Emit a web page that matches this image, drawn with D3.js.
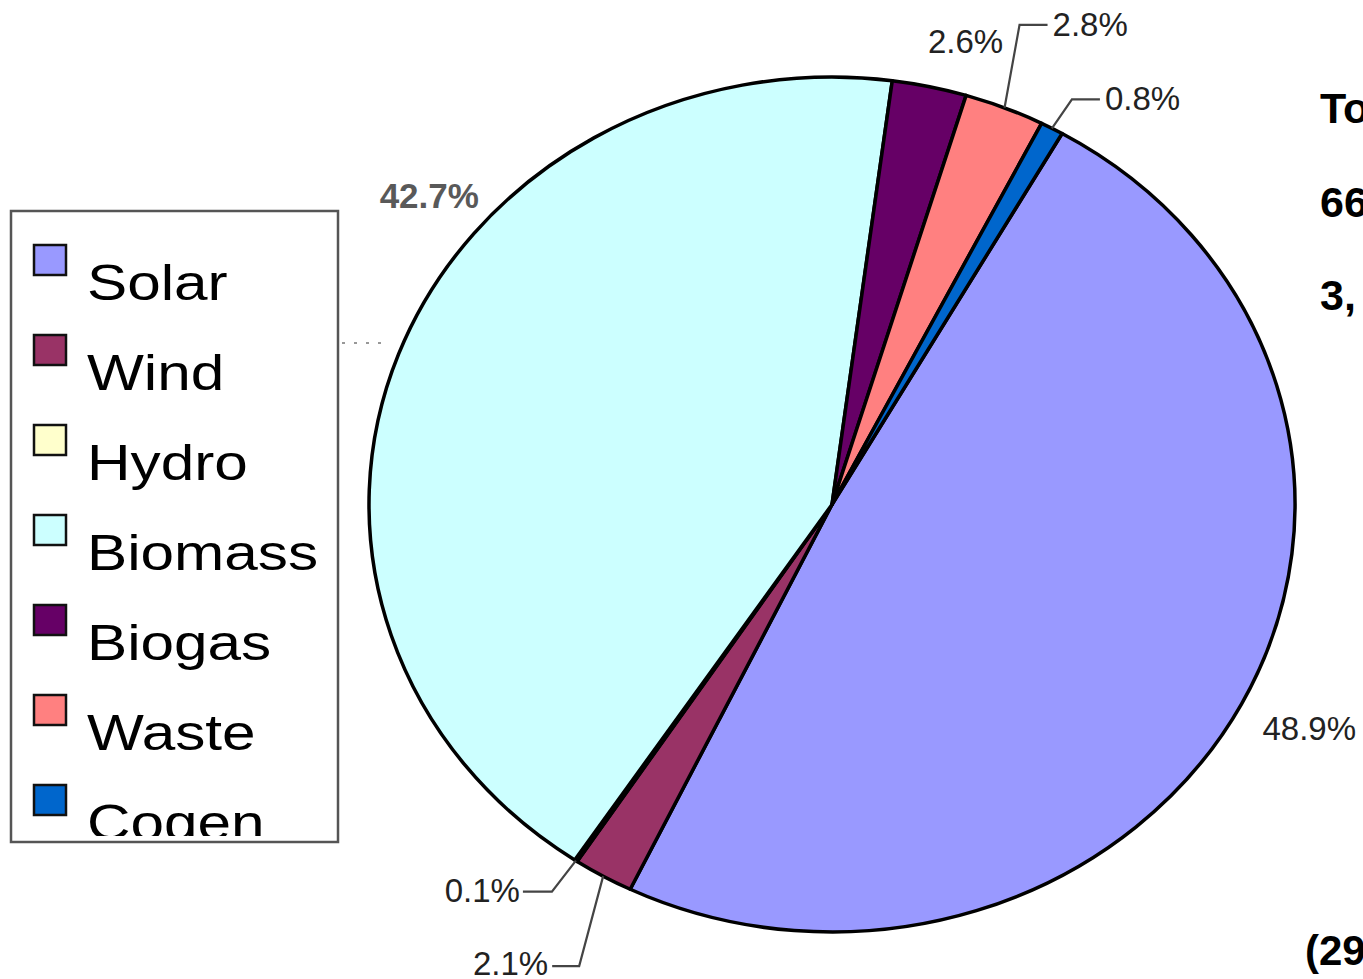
<!DOCTYPE html>
<html>
<head>
<meta charset="utf-8">
<script src="https://cdn.jsdelivr.net/npm/d3@7"></script>
<style>
html,body{margin:0;padding:0;background:#fff;overflow:hidden;}
svg{display:block;font-family:"Liberation Sans",Arial,sans-serif;}
</style>
</head>
<body>
<svg id="chart" width="1363" height="979"></svg>
<script>
// ---- data ----
const categories = ["Solar","Wind","Hydro","Biomass","Biogas","Waste","Cogen"];
const shares = [48.9, 2.1, 0.1, 42.7, 2.6, 2.8, 0.8];
const colors = ["#9999FF","#993366","#FFFFCC","#CCFFFF","#660066","#FF8080","#0066CC"];
const sideTexts = ["Total", "66", "3,"];
const footText = "(29";

// ---- layout ----
const W = 1363, H = 979;
const cx = 832, cy = 504.5, rx = 463, ry = 427.5;
const startDeg = 29.8;
const svg = d3.select("#chart");

const pie = d3.pie().sort(null).value(d => d.v)
  .startAngle(startDeg*Math.PI/180).endAngle(startDeg*Math.PI/180 + 2*Math.PI);
const arcs = pie(categories.map((c,i)=>({c, v: shares[i], col: colors[i]})));
const arc = d3.arc().innerRadius(0).outerRadius(ry);

// hidden label fragment behind legend
svg.append("line").attr("x1",342).attr("x2",388).attr("y1",343).attr("y2",343)
  .attr("stroke","#777").attr("stroke-width",1.5).attr("stroke-dasharray","3,9");

const g = svg.append("g").attr("transform",`translate(${cx},${cy}) scale(${rx/ry},1)`);
g.selectAll("path").data(arcs).join("path")
  .attr("d", arc)
  .attr("fill", d=>d.data.col)
  .attr("stroke","#000").attr("stroke-width",3.5)
  .attr("stroke-linejoin","round")
  .attr("vector-effect","non-scaling-stroke");

// edge point on ellipse at mid angle
function edge(d){
  const a = (d.startAngle + d.endAngle)/2;
  return [cx + rx*Math.sin(a), cy - ry*Math.cos(a)];
}
// label layout: [leader elbow dx,dy], [leader end dx,dy], [text dx,dy], anchor, style
const labelLayout = {
  Solar:   {text:[21,36], anchor:"start"},
  Wind:    {elbow:[-24,90], end:[-51,90], text:[-55,99], anchor:"end"},
  Hydro:   {elbow:[-24,31], end:[-53,31], text:[-56,41], anchor:"end"},
  Biomass: {text:[-19,-146], anchor:"start", bold:true},
  Biogas:  {text:[36,-34], anchor:"middle"},
  Waste:   {elbow:[15,-83], end:[43,-83], text:[48,-72], anchor:"start"},
  Cogen:   {elbow:[20,-29], end:[48,-29], text:[53,-18], anchor:"start"}
};
arcs.forEach(d=>{
  const L = labelLayout[d.data.c];
  const [px,py] = edge(d);
  if (L.elbow){
    svg.append("polyline")
      .attr("points", [[px,py],[px+L.elbow[0],py+L.elbow[1]],[px+L.end[0],py+L.end[1]]].map(p=>p.join(",")).join(" "))
      .attr("fill","none").attr("stroke","#444").attr("stroke-width",2.2);
  }
  svg.append("text")
    .attr("x", px+L.text[0]).attr("y", py+L.text[1])
    .attr("text-anchor", L.anchor)
    .attr("font-size", L.bold ? 35 : 33)
    .attr("font-weight", L.bold ? "bold" : "normal")
    .attr("fill", L.bold ? "#595959" : "#222")
    .text(d3.format(".1f")(d.data.v) + "%");
});

// ---- legend ----
const lg = svg.append("g");
lg.append("defs").append("clipPath").attr("id","lgclip")
  .append("rect").attr("x",11).attr("y",211).attr("width",327).attr("height",625);
lg.append("rect").attr("x",11).attr("y",211).attr("width",327).attr("height",631)
  .attr("fill","#fff").attr("stroke","#555").attr("stroke-width",2.5);
const rowY = d3.scalePoint().domain(categories).range([245, 785]);
const items = lg.append("g").attr("clip-path","url(#lgclip)")
  .selectAll("g").data(categories).join("g");
items.append("rect")
  .attr("x",34).attr("y",c=>rowY(c)).attr("width",32).attr("height",30)
  .attr("fill",(c,i)=>colors[i]).attr("stroke","#111").attr("stroke-width",2.5);
items.append("text")
  .attr("transform",c=>`translate(87,${rowY(c)+55}) scale(1.23,1)`)
  .attr("font-size",49).attr("fill","#000")
  .text(c=>c);

// ---- side texts (clipped at window edge, as in the reference) ----
svg.selectAll("text.side").data(sideTexts).join("text").attr("class","side")
  .attr("x",1320).attr("y",(t,i)=>123 + i*93.5)
  .attr("font-size",43).attr("font-weight","bold").attr("fill","#000")
  .text(t=>t);
svg.append("text").attr("x",1305).attr("y",965)
  .attr("font-size",42).attr("font-weight","bold").attr("fill","#000")
  .text(footText);
</script>
</body>
</html>
